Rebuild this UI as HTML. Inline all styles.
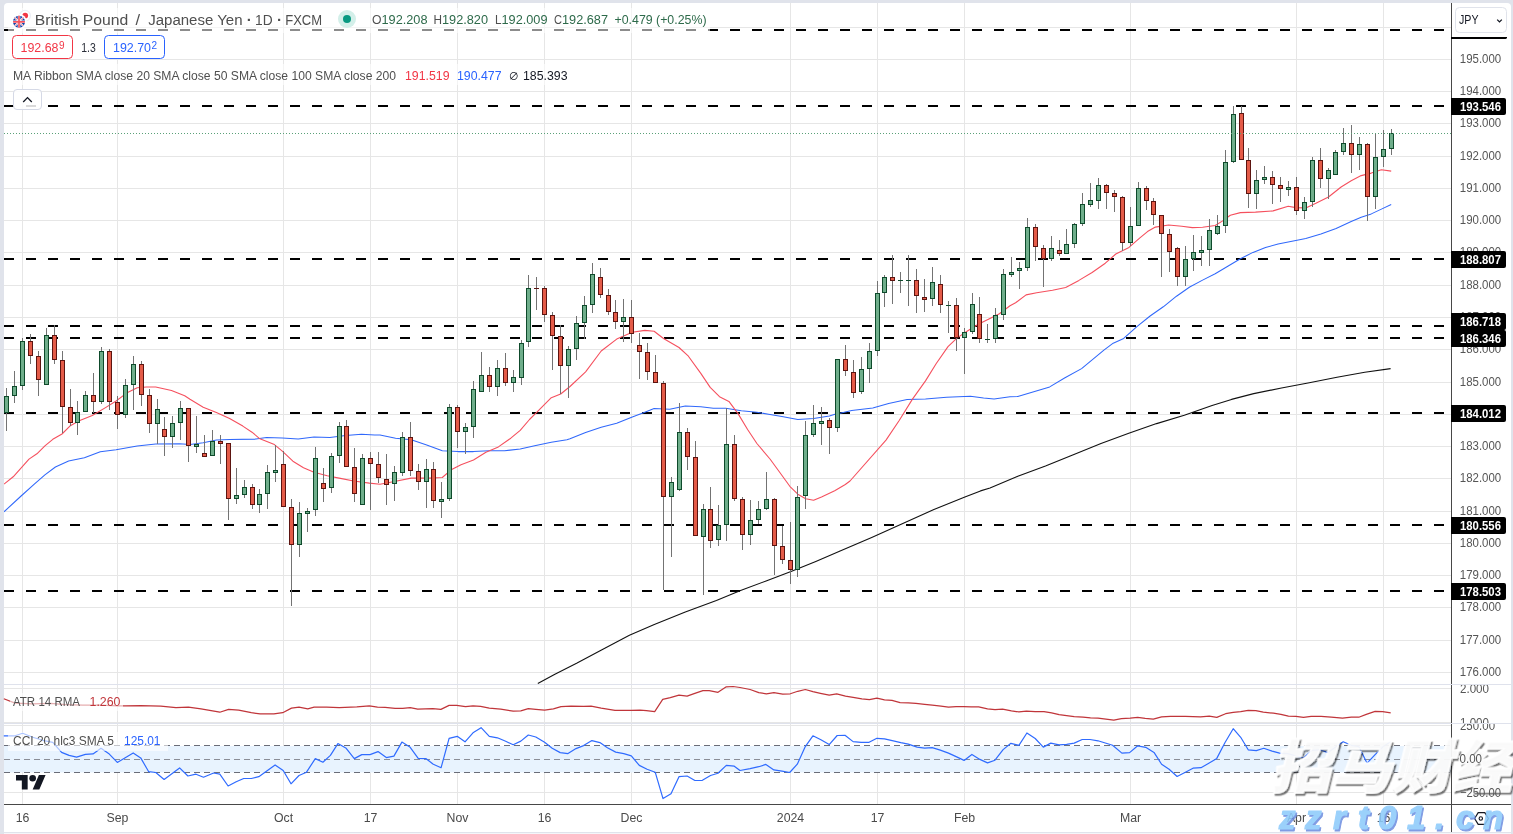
<!DOCTYPE html>
<html lang="en"><head><meta charset="utf-8"><title>GBPJPY chart</title>
<style>html,body{margin:0;padding:0;background:#e0e3eb;}body{width:1513px;height:834px;overflow:hidden;position:relative;}</style></head>
<body>
<svg width="1513" height="834" viewBox="0 0 1513 834" style="position:absolute;left:0;top:0;display:block" font-family="'Liberation Sans', 'Noto Sans CJK SC', sans-serif">
<rect x="0" y="0" width="1513" height="834" fill="#e0e3eb"/>
<path d="M4 7a4 4 0 0 1 4 -4H1507a4 4 0 0 1 4 4V832H4Z" fill="#ffffff"/>
<rect x="4" y="833" width="1507" height="1" fill="#f4f5f9"/>
<g shape-rendering="crispEdges" stroke="#e6e6e6" stroke-width="1">
<line x1="22.5" y1="3" x2="22.5" y2="804"/>
<line x1="117.5" y1="3" x2="117.5" y2="804"/>
<line x1="283.5" y1="3" x2="283.5" y2="804"/>
<line x1="370.5" y1="3" x2="370.5" y2="804"/>
<line x1="457.5" y1="3" x2="457.5" y2="804"/>
<line x1="544.5" y1="3" x2="544.5" y2="804"/>
<line x1="631.5" y1="3" x2="631.5" y2="804"/>
<line x1="790.5" y1="3" x2="790.5" y2="804"/>
<line x1="877.5" y1="3" x2="877.5" y2="804"/>
<line x1="964.5" y1="3" x2="964.5" y2="804"/>
<line x1="1130.5" y1="3" x2="1130.5" y2="804"/>
<line x1="1296.5" y1="3" x2="1296.5" y2="804"/>
<line x1="1383.5" y1="3" x2="1383.5" y2="804"/>
<line x1="4" y1="672.5" x2="1451" y2="672.5"/>
<line x1="4" y1="640.5" x2="1451" y2="640.5"/>
<line x1="4" y1="607.5" x2="1451" y2="607.5"/>
<line x1="4" y1="575.5" x2="1451" y2="575.5"/>
<line x1="4" y1="543.5" x2="1451" y2="543.5"/>
<line x1="4" y1="511.5" x2="1451" y2="511.5"/>
<line x1="4" y1="478.5" x2="1451" y2="478.5"/>
<line x1="4" y1="446.5" x2="1451" y2="446.5"/>
<line x1="4" y1="414.5" x2="1451" y2="414.5"/>
<line x1="4" y1="382.5" x2="1451" y2="382.5"/>
<line x1="4" y1="349.5" x2="1451" y2="349.5"/>
<line x1="4" y1="317.5" x2="1451" y2="317.5"/>
<line x1="4" y1="285.5" x2="1451" y2="285.5"/>
<line x1="4" y1="252.5" x2="1451" y2="252.5"/>
<line x1="4" y1="220.5" x2="1451" y2="220.5"/>
<line x1="4" y1="188.5" x2="1451" y2="188.5"/>
<line x1="4" y1="156.5" x2="1451" y2="156.5"/>
<line x1="4" y1="123.5" x2="1451" y2="123.5"/>
<line x1="4" y1="91.5" x2="1451" y2="91.5"/>
<line x1="4" y1="59.5" x2="1451" y2="59.5"/>
<line x1="4" y1="27.5" x2="1451" y2="27.5"/>
<line x1="4" y1="688.5" x2="1451" y2="688.5"/>
<line x1="4" y1="722.5" x2="1451" y2="722.5"/>
<line x1="4" y1="725.5" x2="1451" y2="725.5"/>
<line x1="4" y1="792.5" x2="1451" y2="792.5"/>
</g>
<g shape-rendering="crispEdges" stroke="#dfe2ec" stroke-width="1">
<line x1="4" y1="684.5" x2="1511" y2="684.5"/>
<line x1="4" y1="723.5" x2="1511" y2="723.5"/>
</g>
<rect x="4" y="746" width="1447" height="26.5" fill="#e8f3fe"/>
<g stroke="#6a6d78" stroke-width="1" stroke-dasharray="6 4" shape-rendering="crispEdges">
<line x1="4" y1="745.5" x2="1451" y2="745.5"/>
<line x1="4" y1="772.5" x2="1451" y2="772.5"/>
<line x1="4" y1="759.5" x2="1451" y2="759.5" stroke="#8a8d96"/>
</g>
<g stroke="#000" stroke-width="2" stroke-dasharray="10 12" shape-rendering="crispEdges">
<line x1="4" y1="30" x2="1451" y2="30"/>
<line x1="4" y1="106" x2="1451" y2="106"/>
<line x1="4" y1="259" x2="1451" y2="259"/>
<line x1="4" y1="326" x2="1451" y2="326"/>
<line x1="4" y1="338" x2="1451" y2="338"/>
<line x1="4" y1="413" x2="1451" y2="413"/>
<line x1="4" y1="525" x2="1451" y2="525"/>
<line x1="4" y1="591" x2="1451" y2="591"/>
</g>
<clipPath id="cm"><rect x="4" y="3" width="1447" height="681"/></clipPath>
<g clip-path="url(#cm)">
<polyline points="537.8,683.5 554.9,674.2 576.6,663.3 601.5,649.9 629.4,635.3 654.3,624.5 685.3,612.0 716.4,600.5 741.2,590.3 766.1,581.0 791.0,571.6 815.8,561.4 840.7,550.8 871.7,537.5 902.8,523.5 933.9,509.5 964.9,497.1 980.5,490.9 990.0,488.0 1017.8,476.3 1045.5,466.0 1073.3,454.7 1101.0,443.6 1128.8,433.3 1156.6,423.6 1184.3,415.2 1212.1,405.5 1231.5,399.4 1253.7,393.6 1281.5,388.0 1309.3,382.8 1337.0,377.2 1364.8,372.2 1390.6,368.6" fill="none" stroke="#111111" stroke-width="1.1" stroke-linejoin="round" />
<polyline points="4.0,511.8 21.1,496.0 34.3,484.1 44.9,474.9 55.4,467.0 68.6,460.9 84.4,457.8 100.3,451.7 116.1,449.8 137.2,445.9 155.7,444.0 179.4,443.8 190.0,444.6 203.2,442.8 216.4,440.1 229.6,439.6 256.0,439.1 266.5,437.5 282.3,438.0 298.2,439.1 314.0,437.0 329.8,437.5 345.7,435.4 361.5,434.3 374.7,434.9 380.0,435.1 395.6,438.2 411.2,439.8 426.7,445.1 442.3,450.7 457.9,451.6 473.5,451.6 489.0,450.7 504.6,450.7 520.2,449.1 535.8,445.4 551.3,442.3 566.9,439.8 570.0,438.8 585.6,432.6 601.2,427.3 616.7,423.2 632.3,417.0 644.8,412.3 654.1,408.6 669.7,409.2 685.3,406.1 700.8,406.7 713.3,408.3 725.8,408.3 741.3,410.8 756.9,412.3 770.0,414.5 781.9,416.4 797.8,419.6 813.6,418.5 829.4,415.9 835.8,413.9 840.0,413.2 851.7,410.5 872.8,407.9 888.6,403.4 907.1,399.4 925.5,398.9 946.6,397.3 970.4,396.3 983.6,398.1 994.1,398.9 1010.0,396.8 1017.8,396.4 1049.7,386.9 1065.0,377.8 1081.6,368.6 1103.9,350.1 1113.2,343.2 1123.7,338.4 1136.9,326.6 1150.1,316.0 1163.3,306.8 1176.5,296.2 1189.7,287.0 1202.6,280.1 1215.2,273.8 1227.8,266.3 1240.4,258.7 1253.0,252.4 1265.5,247.4 1278.1,244.1 1295.8,240.6 1305.8,238.6 1320.9,234.0 1336.1,228.5 1351.2,221.5 1361.2,217.2 1371.3,213.9 1381.4,209.1 1391.2,204.6" fill="none" stroke="#3068fb" stroke-width="1.05" stroke-linejoin="round" />
<polyline points="4.0,484.1 13.2,476.8 29.0,459.1 36.9,453.8 44.9,445.9 52.8,439.3 62.0,434.0 69.9,426.1 79.2,420.8 92.3,415.5 105.5,407.6 116.1,401.0 126.6,393.1 137.2,387.8 146.4,387.0 155.7,387.0 171.5,390.5 184.7,395.8 190.0,399.2 203.2,407.2 216.4,412.4 229.6,418.5 242.8,426.1 252.0,432.2 259.9,438.8 274.4,444.6 282.3,451.2 292.9,461.2 303.5,467.8 314.0,472.3 327.2,475.8 340.4,478.4 353.6,481.0 369.4,483.1 380.0,484.2 395.6,481.2 411.2,478.1 429.8,478.1 442.3,477.5 451.7,469.4 461.0,464.7 473.5,460.0 485.9,452.2 498.4,446.9 510.8,438.2 520.2,430.4 529.5,419.5 538.9,410.2 551.3,397.7 560.7,394.0 570.0,386.5 585.6,371.8 601.2,351.0 616.7,339.1 632.3,332.3 644.8,330.4 654.1,331.3 663.5,338.5 679.0,347.5 688.4,356.2 700.8,373.4 710.2,387.4 719.5,396.7 728.9,401.4 738.2,413.9 747.6,429.5 756.9,443.5 770.0,459.0 779.3,471.8 789.8,486.3 797.8,494.2 805.7,498.7 813.6,500.3 821.5,496.9 834.7,490.8 845.3,484.5 850.0,481.0 886.0,440.1 899.2,420.5 912.3,399.4 925.5,380.9 936.1,363.8 948.0,346.6 957.2,337.9 967.8,330.8 978.3,324.2 988.9,318.9 999.4,313.7 1010.0,305.8 1015.6,302.8 1026.1,294.9 1036.7,292.8 1052.5,290.2 1065.7,287.5 1078.9,280.4 1092.1,272.5 1105.3,263.2 1115.8,254.0 1129.0,247.4 1139.6,238.2 1147.5,231.6 1155.4,227.1 1168.6,225.0 1181.8,226.3 1192.3,227.6 1202.6,227.2 1215.2,225.5 1222.7,220.9 1230.3,215.2 1240.4,212.6 1255.5,212.1 1273.1,210.9 1288.2,206.3 1295.8,207.6 1305.8,207.9 1315.9,203.3 1328.5,197.0 1341.1,187.0 1351.2,180.7 1361.2,175.6 1371.3,173.1 1381.4,169.8 1391.2,171.1" fill="none" stroke="#f5505e" stroke-width="1.1" stroke-linejoin="round" />
</g>
<polyline points="3.8,698.8 15.1,703.1 32.7,703.9 50.3,703.4 65.3,704.6 82.9,705.1 100.5,705.1 118.1,705.9 125.6,705.9 140.7,705.6 160.8,706.1 175.9,707.6 188.4,707.1 201.0,708.9 219.8,712.2 228.6,709.4 238.7,710.2 251.3,712.7 260.1,713.9 273.9,713.9 282.7,712.7 291.5,708.1 299.0,707.1 307.8,708.9 314.1,707.1 326.6,707.1 339.2,707.6 356.8,706.9 369.3,705.9 377.5,707.1 385.1,707.4 395.1,708.4 402.7,708.4 410.2,707.6 417.7,709.1 432.8,708.6 440.9,709.4 449.1,705.4 456.7,705.4 465.5,706.6 473.0,705.9 480.6,706.4 489.3,708.1 500.7,709.1 513.2,711.2 520.8,710.9 528.3,708.6 535.8,709.4 544.6,710.2 553.4,708.9 561.0,706.6 571.0,706.1 583.6,706.4 591.1,706.1 601.2,708.1 615.0,710.4 631.3,710.4 640.1,710.2 646.4,710.7 654.7,711.7 662.7,699.3 670.3,697.6 679.0,695.1 687.1,696.1 694.1,693.6 702.9,690.6 709.2,690.6 718.0,692.3 726.3,686.8 733.1,686.5 740.0,687.5 750.1,689.5 758.8,692.6 766.4,693.8 773.9,692.6 782.7,694.1 790.3,693.8 797.8,691.3 805.3,689.5 812.9,691.6 820.4,693.3 829.2,695.1 836.7,693.8 845.5,696.1 853.1,697.3 861.9,698.8 869.4,699.6 876.9,698.1 884.5,699.8 892.0,700.4 900.1,702.6 908.3,702.9 915.9,703.4 924.7,704.4 932.2,705.1 941.0,706.1 948.5,707.1 956.1,706.6 963.6,706.6 971.2,706.9 978.7,706.9 987.5,708.9 995.0,709.6 1002.6,709.1 1011.4,710.9 1018.9,711.9 1026.4,711.2 1035.2,711.7 1044.0,711.7 1051.6,712.9 1059.1,714.7 1066.6,715.7 1074.2,716.7 1083.0,717.2 1090.5,717.9 1098.0,718.2 1113.8,720.2 1121.4,718.7 1130.2,718.2 1137.7,717.4 1145.2,718.4 1153.3,719.2 1161.6,716.9 1170.4,716.4 1185.4,716.4 1200.5,716.9 1209.3,716.2 1216.8,717.4 1225.6,713.7 1233.2,712.4 1240.7,711.7 1248.2,710.4 1255.8,710.7 1263.3,712.2 1273.4,713.2 1280.9,714.4 1288.4,716.2 1296.0,716.4 1303.5,717.4 1311.1,716.4 1321.1,716.4 1331.2,717.2 1342.5,718.2 1351.3,717.2 1358.8,717.2 1366.3,714.4 1375.1,711.4 1382.7,711.7 1390.7,712.9" fill="none" stroke="#c0353a" stroke-width="1.2" stroke-linejoin="round" />
<polyline points="3.8,735.8 15.1,735.8 22.6,733.3 32.7,737.3 42.7,740.3 52.8,742.3 61.6,752.4 69.1,755.4 76.6,757.1 85.4,754.4 93.0,753.9 101.0,748.3 109.3,754.1 117.3,762.4 133.2,752.9 140.7,757.9 148.7,771.7 155.8,772.5 164.1,779.5 179.6,767.9 187.9,776.0 196.0,774.2 203.5,777.2 213.6,773.0 219.8,774.2 228.1,786.0 236.2,781.8 243.7,778.5 251.3,778.5 258.8,776.7 275.1,764.9 283.2,770.5 291.0,783.8 299.0,775.5 306.5,772.2 315.3,758.6 322.9,762.2 330.4,755.4 337.9,743.6 346.2,748.3 354.3,758.6 361.8,754.6 370.0,754.6 378.0,751.6 386.3,757.6 393.9,756.1 401.9,742.1 410.2,747.3 418.2,758.4 425.8,758.6 433.3,764.2 441.1,767.7 449.1,738.3 457.2,736.3 465.0,741.8 473.0,732.8 481.1,727.7 489.3,736.3 497.4,737.8 505.7,741.3 513.2,744.8 520.8,741.1 528.3,735.0 535.8,737.0 544.6,742.3 552.2,748.3 560.2,752.6 568.0,753.6 576.0,748.6 583.6,745.6 591.9,740.6 599.9,742.6 607.4,747.8 615.7,752.1 623.8,753.6 631.3,755.9 639.3,765.4 647.1,769.2 655.2,772.2 663.0,798.6 671.0,793.8 679.0,776.7 687.1,776.0 694.9,780.5 702.4,780.3 710.5,775.5 718.0,773.2 726.3,765.4 734.3,766.2 740.0,770.5 750.1,768.7 758.8,766.7 765.9,764.4 773.9,769.9 782.0,771.2 789.7,772.5 797.3,764.2 805.3,746.6 812.9,735.8 820.9,739.8 829.2,744.6 837.2,735.5 845.0,735.3 853.1,741.6 861.1,742.3 869.1,742.3 876.9,738.3 884.5,738.8 893.3,740.8 900.8,742.6 908.3,744.1 917.1,747.1 924.7,748.1 932.2,747.6 940.3,750.1 948.5,753.1 956.1,756.6 964.1,760.4 971.9,754.4 979.9,759.4 987.5,762.9 995.0,760.2 1003.1,749.6 1010.9,743.3 1018.9,745.3 1026.9,733.0 1035.2,738.5 1043.3,747.1 1050.8,743.1 1059.1,744.8 1066.6,744.3 1074.2,743.1 1082.2,739.5 1090.0,739.5 1098.0,740.8 1112.6,745.3 1121.9,753.1 1129.6,752.6 1137.7,745.8 1145.7,747.3 1154.0,752.4 1161.6,764.2 1169.1,769.2 1177.1,776.5 1185.4,772.2 1193.0,768.2 1201.0,767.7 1208.8,763.2 1216.8,758.4 1224.9,742.8 1233.2,728.7 1240.7,737.3 1248.2,749.8 1256.3,750.6 1263.8,748.3 1272.1,751.1 1279.6,753.1 1287.7,753.6 1296.0,755.9 1303.5,757.9 1311.8,750.4 1319.8,749.8 1328.1,752.6 1335.7,747.1 1343.2,741.8 1351.3,745.3 1358.8,746.6 1367.1,763.2 1375.1,754.6 1383.2,746.6 1390.7,741.8" fill="none" stroke="#2f6bff" stroke-width="1.2" stroke-linejoin="round" />
<g shape-rendering="crispEdges">
<rect x="6" y="388" width="1" height="43" fill="#737373"/>
<rect x="4" y="396" width="5" height="17" fill="#0e4a2b"/>
<rect x="5" y="397" width="3" height="15" fill="#6fae8b"/>
<rect x="14" y="371" width="1" height="32" fill="#737373"/>
<rect x="12" y="386" width="5" height="10" fill="#0e4a2b"/>
<rect x="13" y="387" width="3" height="8" fill="#6fae8b"/>
<rect x="22" y="338" width="1" height="52" fill="#737373"/>
<rect x="20" y="341" width="5" height="45" fill="#0e4a2b"/>
<rect x="21" y="342" width="3" height="43" fill="#6fae8b"/>
<rect x="30" y="334" width="1" height="30" fill="#737373"/>
<rect x="28" y="341" width="5" height="15" fill="#5c1410"/>
<rect x="29" y="342" width="3" height="13" fill="#e45b48"/>
<rect x="38" y="351" width="1" height="45" fill="#737373"/>
<rect x="36" y="356" width="5" height="24" fill="#5c1410"/>
<rect x="37" y="357" width="3" height="22" fill="#e45b48"/>
<rect x="46" y="328" width="1" height="57" fill="#737373"/>
<rect x="44" y="335" width="5" height="50" fill="#0e4a2b"/>
<rect x="45" y="336" width="3" height="48" fill="#6fae8b"/>
<rect x="54" y="325" width="1" height="39" fill="#737373"/>
<rect x="52" y="335" width="5" height="25" fill="#5c1410"/>
<rect x="53" y="336" width="3" height="23" fill="#e45b48"/>
<rect x="62" y="351" width="1" height="82" fill="#737373"/>
<rect x="60" y="360" width="5" height="47" fill="#5c1410"/>
<rect x="61" y="361" width="3" height="45" fill="#e45b48"/>
<rect x="70" y="389" width="1" height="37" fill="#737373"/>
<rect x="68" y="407" width="5" height="16" fill="#5c1410"/>
<rect x="69" y="408" width="3" height="14" fill="#e45b48"/>
<rect x="77" y="401" width="1" height="34" fill="#737373"/>
<rect x="75" y="412" width="5" height="11" fill="#0e4a2b"/>
<rect x="76" y="413" width="3" height="9" fill="#6fae8b"/>
<rect x="85" y="391" width="1" height="21" fill="#737373"/>
<rect x="83" y="395" width="5" height="17" fill="#0e4a2b"/>
<rect x="84" y="396" width="3" height="15" fill="#6fae8b"/>
<rect x="93" y="373" width="1" height="40" fill="#737373"/>
<rect x="91" y="395" width="5" height="7" fill="#5c1410"/>
<rect x="92" y="396" width="3" height="5" fill="#e45b48"/>
<rect x="101" y="347" width="1" height="57" fill="#737373"/>
<rect x="99" y="351" width="5" height="51" fill="#0e4a2b"/>
<rect x="100" y="352" width="3" height="49" fill="#6fae8b"/>
<rect x="109" y="349" width="1" height="61" fill="#737373"/>
<rect x="107" y="351" width="5" height="51" fill="#5c1410"/>
<rect x="108" y="352" width="3" height="49" fill="#e45b48"/>
<rect x="117" y="396" width="1" height="33" fill="#737373"/>
<rect x="115" y="402" width="5" height="13" fill="#5c1410"/>
<rect x="116" y="403" width="3" height="11" fill="#e45b48"/>
<rect x="125" y="379" width="1" height="39" fill="#737373"/>
<rect x="123" y="385" width="5" height="30" fill="#0e4a2b"/>
<rect x="124" y="386" width="3" height="28" fill="#6fae8b"/>
<rect x="133" y="356" width="1" height="54" fill="#737373"/>
<rect x="131" y="364" width="5" height="21" fill="#0e4a2b"/>
<rect x="132" y="365" width="3" height="19" fill="#6fae8b"/>
<rect x="141" y="361" width="1" height="45" fill="#737373"/>
<rect x="139" y="364" width="5" height="31" fill="#5c1410"/>
<rect x="140" y="365" width="3" height="29" fill="#e45b48"/>
<rect x="149" y="389" width="1" height="44" fill="#737373"/>
<rect x="147" y="395" width="5" height="29" fill="#5c1410"/>
<rect x="148" y="396" width="3" height="27" fill="#e45b48"/>
<rect x="157" y="399" width="1" height="45" fill="#737373"/>
<rect x="155" y="409" width="5" height="15" fill="#0e4a2b"/>
<rect x="156" y="410" width="3" height="13" fill="#6fae8b"/>
<rect x="164" y="417" width="1" height="39" fill="#737373"/>
<rect x="162" y="429" width="5" height="8" fill="#5c1410"/>
<rect x="163" y="430" width="3" height="6" fill="#e45b48"/>
<rect x="172" y="416" width="1" height="32" fill="#737373"/>
<rect x="170" y="423" width="5" height="14" fill="#0e4a2b"/>
<rect x="171" y="424" width="3" height="12" fill="#6fae8b"/>
<rect x="180" y="401" width="1" height="39" fill="#737373"/>
<rect x="178" y="408" width="5" height="15" fill="#0e4a2b"/>
<rect x="179" y="409" width="3" height="13" fill="#6fae8b"/>
<rect x="188" y="408" width="1" height="54" fill="#737373"/>
<rect x="186" y="408" width="5" height="38" fill="#5c1410"/>
<rect x="187" y="409" width="3" height="36" fill="#e45b48"/>
<rect x="196" y="416" width="1" height="37" fill="#737373"/>
<rect x="194" y="444" width="5" height="3" fill="#0e4a2b"/>
<rect x="195" y="445" width="3" height="1" fill="#6fae8b"/>
<rect x="204" y="435" width="1" height="22" fill="#737373"/>
<rect x="202" y="453" width="5" height="4" fill="#5c1410"/>
<rect x="203" y="454" width="3" height="2" fill="#e45b48"/>
<rect x="212" y="430" width="1" height="26" fill="#737373"/>
<rect x="210" y="441" width="5" height="15" fill="#0e4a2b"/>
<rect x="211" y="442" width="3" height="13" fill="#6fae8b"/>
<rect x="220" y="435" width="1" height="29" fill="#737373"/>
<rect x="218" y="441" width="5" height="3" fill="#5c1410"/>
<rect x="219" y="442" width="3" height="1" fill="#e45b48"/>
<rect x="228" y="443" width="1" height="77" fill="#737373"/>
<rect x="226" y="443" width="5" height="56" fill="#5c1410"/>
<rect x="227" y="444" width="3" height="54" fill="#e45b48"/>
<rect x="236" y="468" width="1" height="36" fill="#737373"/>
<rect x="234" y="495" width="5" height="4" fill="#0e4a2b"/>
<rect x="235" y="496" width="3" height="2" fill="#6fae8b"/>
<rect x="244" y="480" width="1" height="18" fill="#737373"/>
<rect x="242" y="487" width="5" height="8" fill="#0e4a2b"/>
<rect x="243" y="488" width="3" height="6" fill="#6fae8b"/>
<rect x="252" y="484" width="1" height="25" fill="#737373"/>
<rect x="250" y="487" width="5" height="18" fill="#5c1410"/>
<rect x="251" y="488" width="3" height="16" fill="#e45b48"/>
<rect x="259" y="489" width="1" height="24" fill="#737373"/>
<rect x="257" y="494" width="5" height="11" fill="#0e4a2b"/>
<rect x="258" y="495" width="3" height="9" fill="#6fae8b"/>
<rect x="267" y="465" width="1" height="44" fill="#737373"/>
<rect x="265" y="472" width="5" height="22" fill="#0e4a2b"/>
<rect x="266" y="473" width="3" height="20" fill="#6fae8b"/>
<rect x="275" y="445" width="1" height="37" fill="#737373"/>
<rect x="273" y="470" width="5" height="3" fill="#0e4a2b"/>
<rect x="274" y="471" width="3" height="1" fill="#6fae8b"/>
<rect x="283" y="451" width="1" height="56" fill="#737373"/>
<rect x="281" y="464" width="5" height="43" fill="#5c1410"/>
<rect x="282" y="465" width="3" height="41" fill="#e45b48"/>
<rect x="291" y="499" width="1" height="107" fill="#737373"/>
<rect x="289" y="507" width="5" height="38" fill="#5c1410"/>
<rect x="290" y="508" width="3" height="36" fill="#e45b48"/>
<rect x="299" y="502" width="1" height="55" fill="#737373"/>
<rect x="297" y="513" width="5" height="32" fill="#0e4a2b"/>
<rect x="298" y="514" width="3" height="30" fill="#6fae8b"/>
<rect x="307" y="508" width="1" height="24" fill="#737373"/>
<rect x="305" y="511" width="5" height="3" fill="#0e4a2b"/>
<rect x="306" y="512" width="3" height="1" fill="#6fae8b"/>
<rect x="315" y="447" width="1" height="69" fill="#737373"/>
<rect x="313" y="458" width="5" height="52" fill="#0e4a2b"/>
<rect x="314" y="459" width="3" height="50" fill="#6fae8b"/>
<rect x="323" y="468" width="1" height="34" fill="#737373"/>
<rect x="321" y="483" width="5" height="6" fill="#5c1410"/>
<rect x="322" y="484" width="3" height="4" fill="#e45b48"/>
<rect x="331" y="453" width="1" height="40" fill="#737373"/>
<rect x="329" y="456" width="5" height="32" fill="#0e4a2b"/>
<rect x="330" y="457" width="3" height="30" fill="#6fae8b"/>
<rect x="339" y="422" width="1" height="41" fill="#737373"/>
<rect x="337" y="426" width="5" height="30" fill="#0e4a2b"/>
<rect x="338" y="427" width="3" height="28" fill="#6fae8b"/>
<rect x="346" y="420" width="1" height="47" fill="#737373"/>
<rect x="344" y="426" width="5" height="41" fill="#5c1410"/>
<rect x="345" y="427" width="3" height="39" fill="#e45b48"/>
<rect x="354" y="448" width="1" height="54" fill="#737373"/>
<rect x="352" y="467" width="5" height="27" fill="#5c1410"/>
<rect x="353" y="468" width="3" height="25" fill="#e45b48"/>
<rect x="362" y="454" width="1" height="51" fill="#737373"/>
<rect x="360" y="458" width="5" height="47" fill="#0e4a2b"/>
<rect x="361" y="459" width="3" height="45" fill="#6fae8b"/>
<rect x="370" y="452" width="1" height="58" fill="#737373"/>
<rect x="368" y="458" width="5" height="6" fill="#5c1410"/>
<rect x="369" y="459" width="3" height="4" fill="#e45b48"/>
<rect x="378" y="452" width="1" height="31" fill="#737373"/>
<rect x="376" y="464" width="5" height="14" fill="#5c1410"/>
<rect x="377" y="465" width="3" height="12" fill="#e45b48"/>
<rect x="386" y="454" width="1" height="51" fill="#737373"/>
<rect x="384" y="479" width="5" height="6" fill="#5c1410"/>
<rect x="385" y="480" width="3" height="4" fill="#e45b48"/>
<rect x="394" y="466" width="1" height="35" fill="#737373"/>
<rect x="392" y="472" width="5" height="12" fill="#0e4a2b"/>
<rect x="393" y="473" width="3" height="10" fill="#6fae8b"/>
<rect x="402" y="432" width="1" height="44" fill="#737373"/>
<rect x="400" y="437" width="5" height="36" fill="#0e4a2b"/>
<rect x="401" y="438" width="3" height="34" fill="#6fae8b"/>
<rect x="410" y="422" width="1" height="54" fill="#737373"/>
<rect x="408" y="437" width="5" height="34" fill="#5c1410"/>
<rect x="409" y="438" width="3" height="32" fill="#e45b48"/>
<rect x="418" y="464" width="1" height="26" fill="#737373"/>
<rect x="416" y="471" width="5" height="11" fill="#5c1410"/>
<rect x="417" y="472" width="3" height="9" fill="#e45b48"/>
<rect x="426" y="459" width="1" height="49" fill="#737373"/>
<rect x="424" y="469" width="5" height="13" fill="#0e4a2b"/>
<rect x="425" y="470" width="3" height="11" fill="#6fae8b"/>
<rect x="433" y="462" width="1" height="46" fill="#737373"/>
<rect x="431" y="469" width="5" height="32" fill="#5c1410"/>
<rect x="432" y="470" width="3" height="30" fill="#e45b48"/>
<rect x="441" y="482" width="1" height="36" fill="#737373"/>
<rect x="439" y="499" width="5" height="3" fill="#0e4a2b"/>
<rect x="440" y="500" width="3" height="1" fill="#6fae8b"/>
<rect x="449" y="404" width="1" height="97" fill="#737373"/>
<rect x="447" y="407" width="5" height="92" fill="#0e4a2b"/>
<rect x="448" y="408" width="3" height="90" fill="#6fae8b"/>
<rect x="457" y="405" width="1" height="43" fill="#737373"/>
<rect x="455" y="407" width="5" height="25" fill="#5c1410"/>
<rect x="456" y="408" width="3" height="23" fill="#e45b48"/>
<rect x="465" y="423" width="1" height="31" fill="#737373"/>
<rect x="463" y="427" width="5" height="5" fill="#0e4a2b"/>
<rect x="464" y="428" width="3" height="3" fill="#6fae8b"/>
<rect x="473" y="381" width="1" height="57" fill="#737373"/>
<rect x="471" y="389" width="5" height="38" fill="#0e4a2b"/>
<rect x="472" y="390" width="3" height="36" fill="#6fae8b"/>
<rect x="481" y="352" width="1" height="40" fill="#737373"/>
<rect x="479" y="375" width="5" height="17" fill="#0e4a2b"/>
<rect x="480" y="376" width="3" height="15" fill="#6fae8b"/>
<rect x="489" y="367" width="1" height="25" fill="#737373"/>
<rect x="487" y="375" width="5" height="12" fill="#5c1410"/>
<rect x="488" y="376" width="3" height="10" fill="#e45b48"/>
<rect x="497" y="360" width="1" height="36" fill="#737373"/>
<rect x="495" y="368" width="5" height="19" fill="#0e4a2b"/>
<rect x="496" y="369" width="3" height="17" fill="#6fae8b"/>
<rect x="505" y="353" width="1" height="33" fill="#737373"/>
<rect x="503" y="368" width="5" height="15" fill="#5c1410"/>
<rect x="504" y="369" width="3" height="13" fill="#e45b48"/>
<rect x="513" y="370" width="1" height="22" fill="#737373"/>
<rect x="511" y="377" width="5" height="6" fill="#0e4a2b"/>
<rect x="512" y="378" width="3" height="4" fill="#6fae8b"/>
<rect x="521" y="340" width="1" height="45" fill="#737373"/>
<rect x="519" y="343" width="5" height="35" fill="#0e4a2b"/>
<rect x="520" y="344" width="3" height="33" fill="#6fae8b"/>
<rect x="528" y="275" width="1" height="72" fill="#737373"/>
<rect x="526" y="288" width="5" height="54" fill="#0e4a2b"/>
<rect x="527" y="289" width="3" height="52" fill="#6fae8b"/>
<rect x="536" y="277" width="1" height="33" fill="#737373"/>
<rect x="534" y="288" width="5" height="1" fill="#5c1410"/>
<rect x="544" y="286" width="1" height="36" fill="#737373"/>
<rect x="542" y="288" width="5" height="27" fill="#5c1410"/>
<rect x="543" y="289" width="3" height="25" fill="#e45b48"/>
<rect x="552" y="312" width="1" height="58" fill="#737373"/>
<rect x="550" y="315" width="5" height="21" fill="#5c1410"/>
<rect x="551" y="316" width="3" height="19" fill="#e45b48"/>
<rect x="560" y="325" width="1" height="69" fill="#737373"/>
<rect x="558" y="336" width="5" height="30" fill="#5c1410"/>
<rect x="559" y="337" width="3" height="28" fill="#e45b48"/>
<rect x="568" y="346" width="1" height="52" fill="#737373"/>
<rect x="566" y="349" width="5" height="17" fill="#0e4a2b"/>
<rect x="567" y="350" width="3" height="15" fill="#6fae8b"/>
<rect x="576" y="316" width="1" height="44" fill="#737373"/>
<rect x="574" y="323" width="5" height="26" fill="#0e4a2b"/>
<rect x="575" y="324" width="3" height="24" fill="#6fae8b"/>
<rect x="584" y="296" width="1" height="43" fill="#737373"/>
<rect x="582" y="305" width="5" height="18" fill="#0e4a2b"/>
<rect x="583" y="306" width="3" height="16" fill="#6fae8b"/>
<rect x="592" y="263" width="1" height="50" fill="#737373"/>
<rect x="590" y="274" width="5" height="31" fill="#0e4a2b"/>
<rect x="591" y="275" width="3" height="29" fill="#6fae8b"/>
<rect x="600" y="268" width="1" height="30" fill="#737373"/>
<rect x="598" y="277" width="5" height="18" fill="#5c1410"/>
<rect x="599" y="278" width="3" height="16" fill="#e45b48"/>
<rect x="608" y="289" width="1" height="26" fill="#737373"/>
<rect x="606" y="295" width="5" height="17" fill="#5c1410"/>
<rect x="607" y="296" width="3" height="15" fill="#e45b48"/>
<rect x="615" y="300" width="1" height="29" fill="#737373"/>
<rect x="613" y="312" width="5" height="10" fill="#5c1410"/>
<rect x="614" y="313" width="3" height="8" fill="#e45b48"/>
<rect x="623" y="299" width="1" height="43" fill="#737373"/>
<rect x="621" y="317" width="5" height="5" fill="#0e4a2b"/>
<rect x="622" y="318" width="3" height="3" fill="#6fae8b"/>
<rect x="631" y="300" width="1" height="43" fill="#737373"/>
<rect x="629" y="317" width="5" height="17" fill="#5c1410"/>
<rect x="630" y="318" width="3" height="15" fill="#e45b48"/>
<rect x="639" y="333" width="1" height="46" fill="#737373"/>
<rect x="637" y="345" width="5" height="7" fill="#5c1410"/>
<rect x="638" y="346" width="3" height="5" fill="#e45b48"/>
<rect x="647" y="343" width="1" height="37" fill="#737373"/>
<rect x="645" y="352" width="5" height="20" fill="#5c1410"/>
<rect x="646" y="353" width="3" height="18" fill="#e45b48"/>
<rect x="655" y="355" width="1" height="28" fill="#737373"/>
<rect x="653" y="372" width="5" height="11" fill="#5c1410"/>
<rect x="654" y="373" width="3" height="9" fill="#e45b48"/>
<rect x="663" y="381" width="1" height="209" fill="#737373"/>
<rect x="661" y="383" width="5" height="114" fill="#5c1410"/>
<rect x="662" y="384" width="3" height="112" fill="#e45b48"/>
<rect x="671" y="477" width="1" height="80" fill="#737373"/>
<rect x="669" y="482" width="5" height="15" fill="#0e4a2b"/>
<rect x="670" y="483" width="3" height="13" fill="#6fae8b"/>
<rect x="679" y="403" width="1" height="88" fill="#737373"/>
<rect x="677" y="432" width="5" height="58" fill="#0e4a2b"/>
<rect x="678" y="433" width="3" height="56" fill="#6fae8b"/>
<rect x="687" y="428" width="1" height="42" fill="#737373"/>
<rect x="685" y="432" width="5" height="25" fill="#5c1410"/>
<rect x="686" y="433" width="3" height="23" fill="#e45b48"/>
<rect x="695" y="441" width="1" height="95" fill="#737373"/>
<rect x="693" y="457" width="5" height="79" fill="#5c1410"/>
<rect x="694" y="458" width="3" height="77" fill="#e45b48"/>
<rect x="703" y="504" width="1" height="91" fill="#737373"/>
<rect x="701" y="509" width="5" height="28" fill="#0e4a2b"/>
<rect x="702" y="510" width="3" height="26" fill="#6fae8b"/>
<rect x="710" y="487" width="1" height="61" fill="#737373"/>
<rect x="708" y="509" width="5" height="32" fill="#5c1410"/>
<rect x="709" y="510" width="3" height="30" fill="#e45b48"/>
<rect x="718" y="505" width="1" height="41" fill="#737373"/>
<rect x="716" y="525" width="5" height="15" fill="#0e4a2b"/>
<rect x="717" y="526" width="3" height="13" fill="#6fae8b"/>
<rect x="726" y="408" width="1" height="133" fill="#737373"/>
<rect x="724" y="444" width="5" height="81" fill="#0e4a2b"/>
<rect x="725" y="445" width="3" height="79" fill="#6fae8b"/>
<rect x="734" y="435" width="1" height="66" fill="#737373"/>
<rect x="732" y="444" width="5" height="55" fill="#5c1410"/>
<rect x="733" y="445" width="3" height="53" fill="#e45b48"/>
<rect x="742" y="497" width="1" height="53" fill="#737373"/>
<rect x="740" y="499" width="5" height="36" fill="#5c1410"/>
<rect x="741" y="500" width="3" height="34" fill="#e45b48"/>
<rect x="750" y="500" width="1" height="45" fill="#737373"/>
<rect x="748" y="520" width="5" height="15" fill="#0e4a2b"/>
<rect x="749" y="521" width="3" height="13" fill="#6fae8b"/>
<rect x="758" y="501" width="1" height="23" fill="#737373"/>
<rect x="756" y="509" width="5" height="11" fill="#0e4a2b"/>
<rect x="757" y="510" width="3" height="9" fill="#6fae8b"/>
<rect x="766" y="472" width="1" height="38" fill="#737373"/>
<rect x="764" y="499" width="5" height="10" fill="#0e4a2b"/>
<rect x="765" y="500" width="3" height="8" fill="#6fae8b"/>
<rect x="774" y="498" width="1" height="77" fill="#737373"/>
<rect x="772" y="499" width="5" height="47" fill="#5c1410"/>
<rect x="773" y="500" width="3" height="45" fill="#e45b48"/>
<rect x="782" y="526" width="1" height="38" fill="#737373"/>
<rect x="780" y="546" width="5" height="14" fill="#5c1410"/>
<rect x="781" y="547" width="3" height="12" fill="#e45b48"/>
<rect x="790" y="522" width="1" height="62" fill="#737373"/>
<rect x="788" y="560" width="5" height="10" fill="#5c1410"/>
<rect x="789" y="561" width="3" height="8" fill="#e45b48"/>
<rect x="797" y="486" width="1" height="91" fill="#737373"/>
<rect x="795" y="497" width="5" height="73" fill="#0e4a2b"/>
<rect x="796" y="498" width="3" height="71" fill="#6fae8b"/>
<rect x="805" y="421" width="1" height="88" fill="#737373"/>
<rect x="803" y="435" width="5" height="61" fill="#0e4a2b"/>
<rect x="804" y="436" width="3" height="59" fill="#6fae8b"/>
<rect x="813" y="405" width="1" height="32" fill="#737373"/>
<rect x="811" y="423" width="5" height="12" fill="#0e4a2b"/>
<rect x="812" y="424" width="3" height="10" fill="#6fae8b"/>
<rect x="821" y="407" width="1" height="38" fill="#737373"/>
<rect x="819" y="421" width="5" height="3" fill="#0e4a2b"/>
<rect x="820" y="422" width="3" height="1" fill="#6fae8b"/>
<rect x="829" y="418" width="1" height="36" fill="#737373"/>
<rect x="827" y="420" width="5" height="8" fill="#5c1410"/>
<rect x="828" y="421" width="3" height="6" fill="#e45b48"/>
<rect x="837" y="359" width="1" height="73" fill="#737373"/>
<rect x="835" y="359" width="5" height="69" fill="#0e4a2b"/>
<rect x="836" y="360" width="3" height="67" fill="#6fae8b"/>
<rect x="845" y="345" width="1" height="31" fill="#737373"/>
<rect x="843" y="359" width="5" height="12" fill="#5c1410"/>
<rect x="844" y="360" width="3" height="10" fill="#e45b48"/>
<rect x="853" y="360" width="1" height="38" fill="#737373"/>
<rect x="851" y="372" width="5" height="21" fill="#5c1410"/>
<rect x="852" y="373" width="3" height="19" fill="#e45b48"/>
<rect x="861" y="357" width="1" height="37" fill="#737373"/>
<rect x="859" y="369" width="5" height="23" fill="#0e4a2b"/>
<rect x="860" y="370" width="3" height="21" fill="#6fae8b"/>
<rect x="869" y="343" width="1" height="40" fill="#737373"/>
<rect x="867" y="351" width="5" height="18" fill="#0e4a2b"/>
<rect x="868" y="352" width="3" height="16" fill="#6fae8b"/>
<rect x="877" y="281" width="1" height="75" fill="#737373"/>
<rect x="875" y="293" width="5" height="58" fill="#0e4a2b"/>
<rect x="876" y="294" width="3" height="56" fill="#6fae8b"/>
<rect x="884" y="275" width="1" height="32" fill="#737373"/>
<rect x="882" y="277" width="5" height="16" fill="#0e4a2b"/>
<rect x="883" y="278" width="3" height="14" fill="#6fae8b"/>
<rect x="892" y="255" width="1" height="49" fill="#737373"/>
<rect x="890" y="277" width="5" height="4" fill="#5c1410"/>
<rect x="891" y="278" width="3" height="2" fill="#e45b48"/>
<rect x="900" y="272" width="1" height="21" fill="#737373"/>
<rect x="898" y="280" width="5" height="1" fill="#0e4a2b"/>
<rect x="908" y="255" width="1" height="51" fill="#737373"/>
<rect x="906" y="280" width="5" height="1" fill="#0e4a2b"/>
<rect x="916" y="269" width="1" height="44" fill="#737373"/>
<rect x="914" y="280" width="5" height="16" fill="#5c1410"/>
<rect x="915" y="281" width="3" height="14" fill="#e45b48"/>
<rect x="924" y="279" width="1" height="33" fill="#737373"/>
<rect x="922" y="297" width="5" height="3" fill="#5c1410"/>
<rect x="923" y="298" width="3" height="1" fill="#e45b48"/>
<rect x="932" y="267" width="1" height="39" fill="#737373"/>
<rect x="930" y="282" width="5" height="17" fill="#0e4a2b"/>
<rect x="931" y="283" width="3" height="15" fill="#6fae8b"/>
<rect x="940" y="275" width="1" height="38" fill="#737373"/>
<rect x="938" y="284" width="5" height="21" fill="#5c1410"/>
<rect x="939" y="285" width="3" height="19" fill="#e45b48"/>
<rect x="948" y="301" width="1" height="32" fill="#737373"/>
<rect x="946" y="305" width="5" height="1" fill="#0e4a2b"/>
<rect x="956" y="298" width="1" height="53" fill="#737373"/>
<rect x="954" y="305" width="5" height="33" fill="#5c1410"/>
<rect x="955" y="306" width="3" height="31" fill="#e45b48"/>
<rect x="964" y="328" width="1" height="46" fill="#737373"/>
<rect x="962" y="332" width="5" height="6" fill="#0e4a2b"/>
<rect x="963" y="333" width="3" height="4" fill="#6fae8b"/>
<rect x="972" y="293" width="1" height="41" fill="#737373"/>
<rect x="970" y="304" width="5" height="28" fill="#0e4a2b"/>
<rect x="971" y="305" width="3" height="26" fill="#6fae8b"/>
<rect x="979" y="297" width="1" height="46" fill="#737373"/>
<rect x="977" y="314" width="5" height="25" fill="#5c1410"/>
<rect x="978" y="315" width="3" height="23" fill="#e45b48"/>
<rect x="987" y="324" width="1" height="19" fill="#737373"/>
<rect x="985" y="339" width="5" height="1" fill="#0e4a2b"/>
<rect x="995" y="308" width="1" height="35" fill="#737373"/>
<rect x="993" y="315" width="5" height="24" fill="#0e4a2b"/>
<rect x="994" y="316" width="3" height="22" fill="#6fae8b"/>
<rect x="1003" y="269" width="1" height="51" fill="#737373"/>
<rect x="1001" y="274" width="5" height="41" fill="#0e4a2b"/>
<rect x="1002" y="275" width="3" height="39" fill="#6fae8b"/>
<rect x="1011" y="257" width="1" height="20" fill="#737373"/>
<rect x="1009" y="272" width="5" height="3" fill="#0e4a2b"/>
<rect x="1010" y="273" width="3" height="1" fill="#6fae8b"/>
<rect x="1019" y="262" width="1" height="27" fill="#737373"/>
<rect x="1017" y="268" width="5" height="3" fill="#0e4a2b"/>
<rect x="1018" y="269" width="3" height="1" fill="#6fae8b"/>
<rect x="1027" y="218" width="1" height="53" fill="#737373"/>
<rect x="1025" y="227" width="5" height="41" fill="#0e4a2b"/>
<rect x="1026" y="228" width="3" height="39" fill="#6fae8b"/>
<rect x="1035" y="224" width="1" height="37" fill="#737373"/>
<rect x="1033" y="227" width="5" height="20" fill="#5c1410"/>
<rect x="1034" y="228" width="3" height="18" fill="#e45b48"/>
<rect x="1043" y="245" width="1" height="42" fill="#737373"/>
<rect x="1041" y="248" width="5" height="11" fill="#5c1410"/>
<rect x="1042" y="249" width="3" height="9" fill="#e45b48"/>
<rect x="1051" y="236" width="1" height="25" fill="#737373"/>
<rect x="1049" y="248" width="5" height="11" fill="#0e4a2b"/>
<rect x="1050" y="249" width="3" height="9" fill="#6fae8b"/>
<rect x="1059" y="240" width="1" height="16" fill="#737373"/>
<rect x="1057" y="250" width="5" height="4" fill="#5c1410"/>
<rect x="1058" y="251" width="3" height="2" fill="#e45b48"/>
<rect x="1066" y="229" width="1" height="25" fill="#737373"/>
<rect x="1064" y="244" width="5" height="10" fill="#0e4a2b"/>
<rect x="1065" y="245" width="3" height="8" fill="#6fae8b"/>
<rect x="1074" y="223" width="1" height="25" fill="#737373"/>
<rect x="1072" y="224" width="5" height="20" fill="#0e4a2b"/>
<rect x="1073" y="225" width="3" height="18" fill="#6fae8b"/>
<rect x="1082" y="193" width="1" height="33" fill="#737373"/>
<rect x="1080" y="204" width="5" height="20" fill="#0e4a2b"/>
<rect x="1081" y="205" width="3" height="18" fill="#6fae8b"/>
<rect x="1090" y="183" width="1" height="24" fill="#737373"/>
<rect x="1088" y="200" width="5" height="5" fill="#0e4a2b"/>
<rect x="1089" y="201" width="3" height="3" fill="#6fae8b"/>
<rect x="1098" y="178" width="1" height="31" fill="#737373"/>
<rect x="1096" y="185" width="5" height="16" fill="#0e4a2b"/>
<rect x="1097" y="186" width="3" height="14" fill="#6fae8b"/>
<rect x="1106" y="184" width="1" height="25" fill="#737373"/>
<rect x="1104" y="185" width="5" height="8" fill="#5c1410"/>
<rect x="1105" y="186" width="3" height="6" fill="#e45b48"/>
<rect x="1114" y="190" width="1" height="22" fill="#737373"/>
<rect x="1112" y="193" width="5" height="4" fill="#5c1410"/>
<rect x="1113" y="194" width="3" height="2" fill="#e45b48"/>
<rect x="1122" y="196" width="1" height="55" fill="#737373"/>
<rect x="1120" y="197" width="5" height="46" fill="#5c1410"/>
<rect x="1121" y="198" width="3" height="44" fill="#e45b48"/>
<rect x="1130" y="207" width="1" height="39" fill="#737373"/>
<rect x="1128" y="226" width="5" height="17" fill="#0e4a2b"/>
<rect x="1129" y="227" width="3" height="15" fill="#6fae8b"/>
<rect x="1138" y="182" width="1" height="44" fill="#737373"/>
<rect x="1136" y="188" width="5" height="38" fill="#0e4a2b"/>
<rect x="1137" y="189" width="3" height="36" fill="#6fae8b"/>
<rect x="1146" y="186" width="1" height="24" fill="#737373"/>
<rect x="1144" y="188" width="5" height="13" fill="#5c1410"/>
<rect x="1145" y="189" width="3" height="11" fill="#e45b48"/>
<rect x="1153" y="198" width="1" height="27" fill="#737373"/>
<rect x="1151" y="201" width="5" height="14" fill="#5c1410"/>
<rect x="1152" y="202" width="3" height="12" fill="#e45b48"/>
<rect x="1161" y="215" width="1" height="62" fill="#737373"/>
<rect x="1159" y="215" width="5" height="19" fill="#5c1410"/>
<rect x="1160" y="216" width="3" height="17" fill="#e45b48"/>
<rect x="1169" y="229" width="1" height="43" fill="#737373"/>
<rect x="1167" y="234" width="5" height="18" fill="#5c1410"/>
<rect x="1168" y="235" width="3" height="16" fill="#e45b48"/>
<rect x="1177" y="247" width="1" height="39" fill="#737373"/>
<rect x="1175" y="248" width="5" height="29" fill="#5c1410"/>
<rect x="1176" y="249" width="3" height="27" fill="#e45b48"/>
<rect x="1185" y="246" width="1" height="40" fill="#737373"/>
<rect x="1183" y="259" width="5" height="18" fill="#0e4a2b"/>
<rect x="1184" y="260" width="3" height="16" fill="#6fae8b"/>
<rect x="1193" y="235" width="1" height="36" fill="#737373"/>
<rect x="1191" y="252" width="5" height="7" fill="#0e4a2b"/>
<rect x="1192" y="253" width="3" height="5" fill="#6fae8b"/>
<rect x="1201" y="236" width="1" height="30" fill="#737373"/>
<rect x="1199" y="250" width="5" height="3" fill="#0e4a2b"/>
<rect x="1200" y="251" width="3" height="1" fill="#6fae8b"/>
<rect x="1209" y="219" width="1" height="47" fill="#737373"/>
<rect x="1207" y="230" width="5" height="20" fill="#0e4a2b"/>
<rect x="1208" y="231" width="3" height="18" fill="#6fae8b"/>
<rect x="1217" y="215" width="1" height="20" fill="#737373"/>
<rect x="1215" y="226" width="5" height="8" fill="#0e4a2b"/>
<rect x="1216" y="227" width="3" height="6" fill="#6fae8b"/>
<rect x="1225" y="150" width="1" height="83" fill="#737373"/>
<rect x="1223" y="162" width="5" height="64" fill="#0e4a2b"/>
<rect x="1224" y="163" width="3" height="62" fill="#6fae8b"/>
<rect x="1233" y="106" width="1" height="57" fill="#737373"/>
<rect x="1231" y="114" width="5" height="48" fill="#0e4a2b"/>
<rect x="1232" y="115" width="3" height="46" fill="#6fae8b"/>
<rect x="1241" y="106" width="1" height="54" fill="#737373"/>
<rect x="1239" y="113" width="5" height="47" fill="#5c1410"/>
<rect x="1240" y="114" width="3" height="45" fill="#e45b48"/>
<rect x="1248" y="148" width="1" height="60" fill="#737373"/>
<rect x="1246" y="160" width="5" height="34" fill="#5c1410"/>
<rect x="1247" y="161" width="3" height="32" fill="#e45b48"/>
<rect x="1256" y="170" width="1" height="39" fill="#737373"/>
<rect x="1254" y="180" width="5" height="14" fill="#0e4a2b"/>
<rect x="1255" y="181" width="3" height="12" fill="#6fae8b"/>
<rect x="1264" y="166" width="1" height="18" fill="#737373"/>
<rect x="1262" y="177" width="5" height="3" fill="#0e4a2b"/>
<rect x="1263" y="178" width="3" height="1" fill="#6fae8b"/>
<rect x="1272" y="171" width="1" height="33" fill="#737373"/>
<rect x="1270" y="177" width="5" height="8" fill="#5c1410"/>
<rect x="1271" y="178" width="3" height="6" fill="#e45b48"/>
<rect x="1280" y="177" width="1" height="25" fill="#737373"/>
<rect x="1278" y="185" width="5" height="4" fill="#5c1410"/>
<rect x="1279" y="186" width="3" height="2" fill="#e45b48"/>
<rect x="1288" y="181" width="1" height="15" fill="#737373"/>
<rect x="1286" y="187" width="5" height="3" fill="#0e4a2b"/>
<rect x="1287" y="188" width="3" height="1" fill="#6fae8b"/>
<rect x="1296" y="177" width="1" height="38" fill="#737373"/>
<rect x="1294" y="187" width="5" height="24" fill="#5c1410"/>
<rect x="1295" y="188" width="3" height="22" fill="#e45b48"/>
<rect x="1304" y="197" width="1" height="22" fill="#737373"/>
<rect x="1302" y="202" width="5" height="9" fill="#0e4a2b"/>
<rect x="1303" y="203" width="3" height="7" fill="#6fae8b"/>
<rect x="1312" y="157" width="1" height="50" fill="#737373"/>
<rect x="1310" y="160" width="5" height="42" fill="#0e4a2b"/>
<rect x="1311" y="161" width="3" height="40" fill="#6fae8b"/>
<rect x="1320" y="148" width="1" height="40" fill="#737373"/>
<rect x="1318" y="160" width="5" height="19" fill="#5c1410"/>
<rect x="1319" y="161" width="3" height="17" fill="#e45b48"/>
<rect x="1328" y="168" width="1" height="31" fill="#737373"/>
<rect x="1326" y="170" width="5" height="9" fill="#0e4a2b"/>
<rect x="1327" y="171" width="3" height="7" fill="#6fae8b"/>
<rect x="1335" y="150" width="1" height="25" fill="#737373"/>
<rect x="1333" y="152" width="5" height="23" fill="#0e4a2b"/>
<rect x="1334" y="153" width="3" height="21" fill="#6fae8b"/>
<rect x="1343" y="128" width="1" height="27" fill="#737373"/>
<rect x="1341" y="143" width="5" height="9" fill="#0e4a2b"/>
<rect x="1342" y="144" width="3" height="7" fill="#6fae8b"/>
<rect x="1351" y="125" width="1" height="48" fill="#737373"/>
<rect x="1349" y="143" width="5" height="12" fill="#5c1410"/>
<rect x="1350" y="144" width="3" height="10" fill="#e45b48"/>
<rect x="1359" y="137" width="1" height="33" fill="#737373"/>
<rect x="1357" y="144" width="5" height="11" fill="#0e4a2b"/>
<rect x="1358" y="145" width="3" height="9" fill="#6fae8b"/>
<rect x="1367" y="143" width="1" height="78" fill="#737373"/>
<rect x="1365" y="144" width="5" height="53" fill="#5c1410"/>
<rect x="1366" y="145" width="3" height="51" fill="#e45b48"/>
<rect x="1375" y="134" width="1" height="75" fill="#737373"/>
<rect x="1373" y="157" width="5" height="40" fill="#0e4a2b"/>
<rect x="1374" y="158" width="3" height="38" fill="#6fae8b"/>
<rect x="1383" y="130" width="1" height="37" fill="#737373"/>
<rect x="1381" y="149" width="5" height="8" fill="#0e4a2b"/>
<rect x="1382" y="150" width="3" height="6" fill="#6fae8b"/>
<rect x="1391" y="129" width="1" height="26" fill="#737373"/>
<rect x="1389" y="133" width="5" height="16" fill="#0e4a2b"/>
<rect x="1390" y="134" width="3" height="14" fill="#6fae8b"/>
</g>
<line x1="4" y1="133.5" x2="1451" y2="133.5" stroke="#5aa078" stroke-width="1" stroke-dasharray="1 2" shape-rendering="crispEdges"/>
<g shape-rendering="crispEdges" stroke="#474747" stroke-width="1">
<line x1="1451.5" y1="3" x2="1451.5" y2="832"/>
<line x1="4" y1="804.5" x2="1511" y2="804.5"/>
</g>
<g font-size="12.6" fill="#555" >
<text x="1459.8" y="676.1" textLength="41.4" lengthAdjust="spacingAndGlyphs">176.000</text>
<text x="1459.8" y="644.1" textLength="41.4" lengthAdjust="spacingAndGlyphs">177.000</text>
<text x="1459.8" y="611.1" textLength="41.4" lengthAdjust="spacingAndGlyphs">178.000</text>
<text x="1459.8" y="579.1" textLength="41.4" lengthAdjust="spacingAndGlyphs">179.000</text>
<text x="1459.8" y="547.1" textLength="41.4" lengthAdjust="spacingAndGlyphs">180.000</text>
<text x="1459.8" y="515.1" textLength="41.4" lengthAdjust="spacingAndGlyphs">181.000</text>
<text x="1459.8" y="482.1" textLength="41.4" lengthAdjust="spacingAndGlyphs">182.000</text>
<text x="1459.8" y="450.1" textLength="41.4" lengthAdjust="spacingAndGlyphs">183.000</text>
<text x="1459.8" y="418.1" textLength="41.4" lengthAdjust="spacingAndGlyphs">184.000</text>
<text x="1459.8" y="386.1" textLength="41.4" lengthAdjust="spacingAndGlyphs">185.000</text>
<text x="1459.8" y="353.1" textLength="41.4" lengthAdjust="spacingAndGlyphs">186.000</text>
<text x="1459.8" y="321.1" textLength="41.4" lengthAdjust="spacingAndGlyphs">187.000</text>
<text x="1459.8" y="289.1" textLength="41.4" lengthAdjust="spacingAndGlyphs">188.000</text>
<text x="1459.8" y="256.1" textLength="41.4" lengthAdjust="spacingAndGlyphs">189.000</text>
<text x="1459.8" y="224.1" textLength="41.4" lengthAdjust="spacingAndGlyphs">190.000</text>
<text x="1459.8" y="192.1" textLength="41.4" lengthAdjust="spacingAndGlyphs">191.000</text>
<text x="1459.8" y="160.1" textLength="41.4" lengthAdjust="spacingAndGlyphs">192.000</text>
<text x="1459.8" y="127.1" textLength="41.4" lengthAdjust="spacingAndGlyphs">193.000</text>
<text x="1459.8" y="95.1" textLength="41.4" lengthAdjust="spacingAndGlyphs">194.000</text>
<text x="1459.8" y="63.1" textLength="41.4" lengthAdjust="spacingAndGlyphs">195.000</text>
</g>
<clipPath id="catr"><rect x="1452" y="685" width="60" height="38"/></clipPath>
<clipPath id="ccci"><rect x="1452" y="724" width="60" height="80"/></clipPath>
<g font-size="12.6" fill="#555" clip-path="url(#catr)">
<text x="1460" y="692.7" textLength="29" lengthAdjust="spacingAndGlyphs">2.000</text>
<text x="1460" y="726.7" textLength="29" lengthAdjust="spacingAndGlyphs">1.000</text>
</g>
<g shape-rendering="crispEdges" stroke="#dfe2ec"><line x1="1451" y1="684.5" x2="1511" y2="684.5"/><line x1="1451" y1="723.5" x2="1511" y2="723.5"/></g>
<path d="M1451 98H1504a2 2 0 0 1 2 2V113a2 2 0 0 1 -2 2H1451Z" fill="#000"/>
<text x="1460" y="110.7" font-size="12" font-weight="bold" fill="#fff" textLength="41" lengthAdjust="spacingAndGlyphs">193.546</text>
<path d="M1451 251H1504a2 2 0 0 1 2 2V266a2 2 0 0 1 -2 2H1451Z" fill="#000"/>
<text x="1460" y="263.7" font-size="12" font-weight="bold" fill="#fff" textLength="41" lengthAdjust="spacingAndGlyphs">188.807</text>
<path d="M1451 313H1504a2 2 0 0 1 2 2V328a2 2 0 0 1 -2 2H1451Z" fill="#000"/>
<text x="1460" y="325.7" font-size="12" font-weight="bold" fill="#fff" textLength="41" lengthAdjust="spacingAndGlyphs">186.718</text>
<path d="M1451 330H1504a2 2 0 0 1 2 2V345a2 2 0 0 1 -2 2H1451Z" fill="#000"/>
<text x="1460" y="342.7" font-size="12" font-weight="bold" fill="#fff" textLength="41" lengthAdjust="spacingAndGlyphs">186.346</text>
<path d="M1451 405H1504a2 2 0 0 1 2 2V420a2 2 0 0 1 -2 2H1451Z" fill="#000"/>
<text x="1460" y="417.7" font-size="12" font-weight="bold" fill="#fff" textLength="41" lengthAdjust="spacingAndGlyphs">184.012</text>
<path d="M1451 517H1504a2 2 0 0 1 2 2V532a2 2 0 0 1 -2 2H1451Z" fill="#000"/>
<text x="1460" y="529.7" font-size="12" font-weight="bold" fill="#fff" textLength="41" lengthAdjust="spacingAndGlyphs">180.556</text>
<path d="M1451 583H1504a2 2 0 0 1 2 2V598a2 2 0 0 1 -2 2H1451Z" fill="#000"/>
<text x="1460" y="595.7" font-size="12" font-weight="bold" fill="#fff" textLength="41" lengthAdjust="spacingAndGlyphs">178.503</text>
<path d="M1451 37H1507V38a2 2 0 0 1 -2 1H1451Z" fill="#000"/>
<rect x="1455.5" y="7.5" width="51" height="25" rx="4" fill="#fff" stroke="#e0e3eb"/>
<text x="1459" y="24.3" font-size="12" fill="#131722" textLength="19.5" lengthAdjust="spacingAndGlyphs">JPY</text>
<path d="M1497.2 19.6l2.3 2.3l2.3 -2.3" fill="none" stroke="#131722" stroke-width="1.3"/>
<g font-size="12.3" fill="#4a4a4a" text-anchor="middle">
<text x="22.5" y="821.8">16</text>
<text x="117.5" y="821.8">Sep</text>
<text x="283.5" y="821.8">Oct</text>
<text x="370.5" y="821.8">17</text>
<text x="457.5" y="821.8">Nov</text>
<text x="544.5" y="821.8">16</text>
<text x="631.5" y="821.8">Dec</text>
<text x="790.5" y="821.8">2024</text>
<text x="877.5" y="821.8">17</text>
<text x="964.5" y="821.8">Feb</text>
<text x="1130.5" y="821.8">Mar</text>
<text x="1296.5" y="821.8">Apr</text>
<text x="1383.5" y="821.8">16</text>
</g>
<path d="M1474.6 818.5l3.6 -5.9h6.6l3.6 5.9l-3.6 5.9h-6.6z" fill="none" stroke="#131722" stroke-width="1.2"/><circle cx="1480.8" cy="818.5" r="1.7" fill="none" stroke="#131722" stroke-width="1.1"/>
<g font-weight="bold" font-style="italic" font-size="33" opacity="0.88">
<text x="1280.5 1306.5 1334.5 1359.5 1379.5 1408.5 1436.5 1457.5 1484.5" y="830.5" fill="#6f8fe0" stroke="#6f8fe0" stroke-width="1" stroke-linejoin="round">zzrt01.cn</text>
<text x="1279 1305 1333 1358 1378 1407 1435 1456 1483" y="829" fill="#8ecbfb" stroke="#8ecbfb" stroke-width="1.2" stroke-linejoin="round">zzrt01.cn</text>
</g>
<rect x="8" y="8" width="702" height="25" fill="#fff" fill-opacity="0.55"/>
<rect x="5" y="64" width="566" height="21" fill="#fff" fill-opacity="0.55"/>
<circle cx="25" cy="15.8" r="5.4" fill="#fff" stroke="#eceff6" stroke-width="1.3"/><circle cx="25.2" cy="15.6" r="2.9" fill="#f23645"/>
<circle cx="19" cy="21.8" r="7.7" fill="#fff"/>
<clipPath id="uk"><circle cx="19" cy="21.8" r="6"/></clipPath>
<g clip-path="url(#uk)"><rect x="12" y="15" width="14" height="14" fill="#0f3fa8"/><path d="M12 14.8l14 14M26 14.8l-14 14" stroke="#fff" stroke-width="1.8"/><path d="M12 14.8l14 14M26 14.8l-14 14" stroke="#f4525f" stroke-width="0.7"/><path d="M19 15v14M12 21.8h14" stroke="#fff" stroke-width="2.6"/><path d="M19 15v14M12 21.8h14" stroke="#f4525f" stroke-width="1.7"/></g>
<text y="24.8" font-size="15.2" fill="#4f4f4f"><tspan x="34.7" textLength="93.6" lengthAdjust="spacingAndGlyphs">British Pound</tspan><tspan x="135.6" textLength="4.6" lengthAdjust="spacingAndGlyphs">/</tspan><tspan x="148.2" textLength="94.3" lengthAdjust="spacingAndGlyphs">Japanese Yen</tspan><tspan x="246.8" font-weight="bold">·</tspan><tspan x="255" textLength="17.6" lengthAdjust="spacingAndGlyphs">1D</tspan><tspan x="277" font-weight="bold">·</tspan><tspan x="285.2" textLength="36.9" lengthAdjust="spacingAndGlyphs">FXCM</tspan></text>
<circle cx="347" cy="19" r="9" fill="#d3efe9"/><circle cx="347" cy="19" r="4" fill="#089981"/>
<text x="372" y="24" font-size="13" fill="#4f4f4f" textLength="9.5" lengthAdjust="spacingAndGlyphs">O</text>
<text x="381.5" y="24" font-size="13" fill="#2d6a4a" textLength="46" lengthAdjust="spacingAndGlyphs">192.208</text>
<text x="433.5" y="24" font-size="13" fill="#4f4f4f" textLength="8.5" lengthAdjust="spacingAndGlyphs">H</text>
<text x="442" y="24" font-size="13" fill="#2d6a4a" textLength="46" lengthAdjust="spacingAndGlyphs">192.820</text>
<text x="495" y="24" font-size="13" fill="#4f4f4f" textLength="6.5" lengthAdjust="spacingAndGlyphs">L</text>
<text x="501.5" y="24" font-size="13" fill="#2d6a4a" textLength="46" lengthAdjust="spacingAndGlyphs">192.009</text>
<text x="554" y="24" font-size="13" fill="#4f4f4f" textLength="8" lengthAdjust="spacingAndGlyphs">C</text>
<text x="562" y="24" font-size="13" fill="#2d6a4a" textLength="46" lengthAdjust="spacingAndGlyphs">192.687</text>
<text x="614.5" y="24" font-size="13" fill="#2d6a4a" textLength="92" lengthAdjust="spacingAndGlyphs">+0.479 (+0.25%)</text>
<rect x="12.5" y="35.5" width="60" height="23" rx="4" fill="#fff" stroke="#f23645"/>
<text x="20.5" y="52" font-size="13" fill="#f23645" textLength="38" lengthAdjust="spacingAndGlyphs">192.68</text><text x="59" y="48.5" font-size="10" fill="#f23645">9</text>
<text x="81.3" y="51.5" font-size="12" fill="#2a2e39" textLength="14.5" lengthAdjust="spacingAndGlyphs">1.3</text>
<rect x="104.5" y="35.5" width="60" height="23" rx="4" fill="#fff" stroke="#2962ff"/>
<text x="113" y="52" font-size="13" fill="#2962ff" textLength="38" lengthAdjust="spacingAndGlyphs">192.70</text><text x="151.5" y="48.5" font-size="10" fill="#2962ff">2</text>
<text x="13" y="80" font-size="12" fill="#4f4f4f" textLength="383" lengthAdjust="spacingAndGlyphs">MA Ribbon SMA close 20 SMA close 50 SMA close 100 SMA close 200</text>
<text x="405" y="80" font-size="12" fill="#f23645" textLength="44.5" lengthAdjust="spacingAndGlyphs">191.519</text>
<text x="457" y="80" font-size="12" fill="#2962ff" textLength="44.5" lengthAdjust="spacingAndGlyphs">190.477</text>
<text x="508.5" y="79.5" font-size="10.5" fill="#131722">∅</text>
<text x="523" y="80" font-size="12" fill="#131722" textLength="44.5" lengthAdjust="spacingAndGlyphs">185.393</text>
<rect x="13.5" y="89.5" width="28" height="20" rx="3.5" fill="#fff" fill-opacity="0.85" stroke="#d5d9e6"/>
<path d="M23.2 102l4.3 -4.4l4.3 4.4" fill="none" stroke="#131722" stroke-width="1.3"/>
<rect x="10" y="693" width="113" height="18" fill="#fff" fill-opacity="0.6"/>
<text x="13" y="706.3" font-size="12" fill="#4f4f4f" textLength="67" lengthAdjust="spacingAndGlyphs">ATR 14 RMA</text>
<text x="89.5" y="706.3" font-size="12" fill="#c0353a" textLength="31" lengthAdjust="spacingAndGlyphs">1.260</text>
<rect x="8" y="732" width="160" height="19" fill="#fff" fill-opacity="0.6"/>
<text x="13" y="745.3" font-size="12" fill="#4f4f4f" textLength="101" lengthAdjust="spacingAndGlyphs">CCI 20 hlc3 SMA 5</text>
<text x="124" y="745.3" font-size="12" fill="#2962ff" textLength="36.5" lengthAdjust="spacingAndGlyphs">125.01</text>
<g transform="translate(16,771.7) scale(0.833,0.81)" fill="#131722"><path d="M14 22H7V11H0V4h14v18zM28 22h-8l7.5-18h8L28 22z"/><circle cx="20" cy="8" r="4"/></g>
<filter id="ws" x="-5%" y="-15%" width="112%" height="135%"><feDropShadow dx="2.2" dy="2.2" stdDeviation="0.6" flood-color="#000" flood-opacity="0.55"/></filter>
<g transform="translate(1271,787) skewX(-13.7)" font-family="'Noto Sans CJK SC', 'WenQuanYi Zen Hei', sans-serif" font-size="56" font-weight="900" font-style="normal" filter="url(#ws)"><text x="0" y="0" fill="#fff" fill-opacity="0.9" stroke="#fff" stroke-opacity="0.9" stroke-width="1.6" stroke-linejoin="round" textLength="241" lengthAdjust="spacingAndGlyphs">招马财经</text></g>
<g font-size="12.6" fill="#555" clip-path="url(#ccci)">
<text x="1460" y="729.7" textLength="35" lengthAdjust="spacingAndGlyphs">250.00</text>
<text x="1459.5" y="762.7" textLength="22.5" lengthAdjust="spacingAndGlyphs">0.00</text>
<text x="1460" y="796.8" textLength="41" lengthAdjust="spacingAndGlyphs">−250.00</text>
</g>
</svg>
</body></html>
